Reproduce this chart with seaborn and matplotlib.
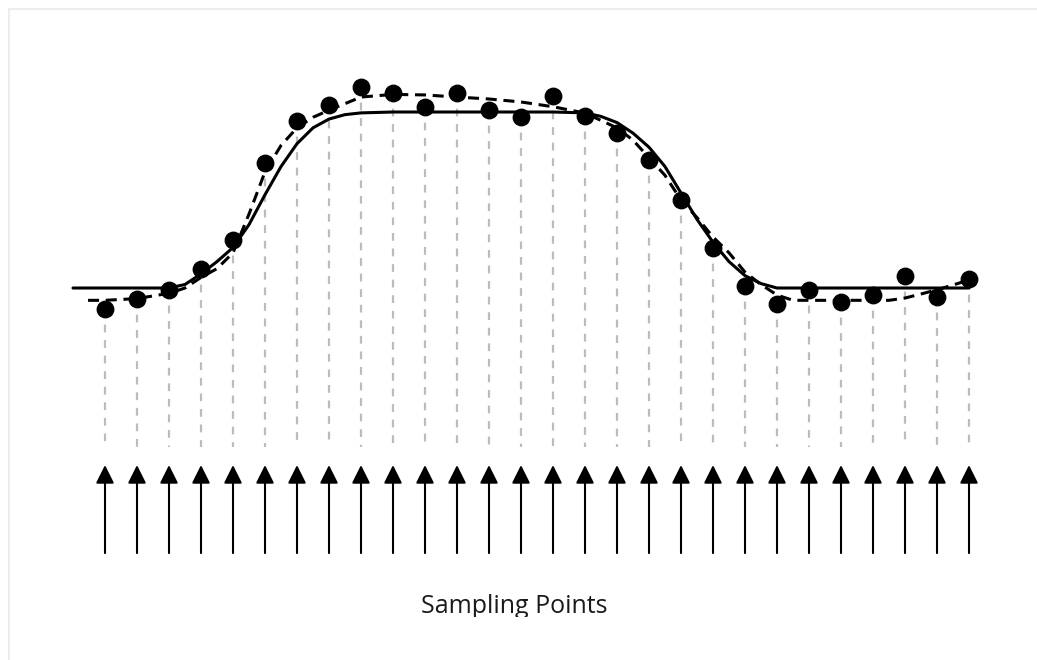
import numpy as np
import pandas as pd
import matplotlib
matplotlib.use("Agg")
import matplotlib.pyplot as plt
import seaborn as sns
from matplotlib.lines import Line2D
from matplotlib.transforms import Bbox, TransformedBbox

# sampled signal (noisy samples at each sampling instant)
sample_idx = np.arange(1, 29)
sample_val = [-0.12, -0.06, -0.01, 0.11, 0.27, 0.71, 0.95, 1.04, 1.14, 1.11,
              1.03, 1.11, 1.01, 0.97, 1.09, 0.98, 0.88, 0.73, 0.50, 0.23,
              0.01, -0.09, -0.01, -0.08, -0.04, 0.07, -0.05, 0.05]

# true signal (solid curve)
true_x = [0, 1, 2, 3, 3.5, 4, 4.5, 5, 5.5, 6, 6.5, 7, 7.5, 8, 8.5, 9, 10, 11,
          12, 13, 14, 15, 16, 16.5, 17, 17.5, 18, 18.5, 19, 19.5, 20, 20.5,
          21, 21.5, 22, 23, 24, 25, 26, 27, 28]
true_y = [0, 0, 0, 0, 0.02, 0.08, 0.15, 0.23, 0.36, 0.53, 0.69, 0.82, 0.91,
          0.96, 0.985, 0.995, 1.0, 1.0, 1.0, 1.0, 1.0, 1.0, 0.995, 0.975,
          0.94, 0.88, 0.80, 0.69, 0.54, 0.39, 0.26, 0.15, 0.07, 0.025, 0,
          0, 0, 0, 0, 0, 0]

# reconstructed / fitted signal (dashed curve)
fit_x = [0.47, 1, 2, 3, 3.5, 4, 4.5, 5, 5.5, 6, 6.5, 7, 7.5, 8, 9, 10, 11,
         12, 13, 14, 15, 16, 17, 17.5, 18, 18.5, 19, 19.5, 20, 20.5, 21,
         21.5, 22, 22.5, 23, 24, 25, 25.5, 26, 26.5, 27, 27.5, 27.9]
fit_y = [-0.07, -0.07, -0.06, -0.03, 0.0, 0.06, 0.11, 0.2, 0.42, 0.66,
         0.81, 0.91, 0.97, 1.01, 1.085, 1.10, 1.097, 1.085, 1.074, 1.057,
         1.03, 0.994, 0.91, 0.84, 0.74, 0.64, 0.5, 0.40, 0.29, 0.2, 0.09,
         0.02, -0.04, -0.07, -0.07, -0.07, -0.07, -0.07, -0.057, -0.034,
         -0.01, 0.017, 0.04]

label = "Sampling Points"

df_s = pd.DataFrame({"t": sample_idx, "v": sample_val})
df_true = pd.DataFrame({"t": true_x, "v": true_y})
df_fit = pd.DataFrame({"t": fit_x, "v": fit_y})

sns.set_style("white")
plt.rcParams["font.family"] = ["Open Sans", "DejaVu Sans"]

fig = plt.figure(figsize=(10.37, 6.6), dpi=100)
ax = fig.add_axes([0, 0, 1, 1])
ax.set_xlim(-2.28125, 30.125)
ax.set_ylim(-2.1136, 1.6364)
ax.set_axis_off()

# grey guide lines from each sample down to the arrows
ax.vlines(df_s["t"], df_s["v"], -0.903, colors="#bcbcbc", lw=1.6,
          linestyles=(0, (3.5, 3.5)), zorder=1)

sns.lineplot(data=df_true, x="t", y="v", color="black", lw=2.2, sort=False,
             ax=ax, zorder=2)
sns.lineplot(data=df_fit, x="t", y="v", color="black", lw=2.2, sort=False,
             linestyle=(0, (3.6, 2.2)), ax=ax, zorder=3)
sns.scatterplot(data=df_s, x="t", y="v", color="black", s=165,
                edgecolor="black", linewidth=0, ax=ax, zorder=4)

# sampling arrows
for t in sample_idx:
    ax.annotate("", xy=(t, -1.006), xytext=(t, -1.506),
                arrowprops=dict(arrowstyle="-|>,head_length=1.1,head_width=0.55",
                                mutation_scale=10, lw=1.5, color="black",
                                shrinkA=0, shrinkB=0))

txt = fig.text(514 / 1037, 1 - 613 / 660, label, ha="center", va="baseline",
               fontsize=18, color="#1a1a1a")
txt.set_clip_box(TransformedBbox(Bbox.from_extents(0, 1 - 617 / 660, 1, 1),
                                 fig.transFigure))

# faint frame on top and left edges
fig.add_artist(Line2D([9 / 1037, 9 / 1037], [0, 1 - 9 / 660],
                      transform=fig.transFigure, color="#ececec", lw=1.5))
fig.add_artist(Line2D([9 / 1037, 1], [1 - 9 / 660, 1 - 9 / 660],
                      transform=fig.transFigure, color="#ececec", lw=1.5))

fig.savefig("out.png", dpi=100)
